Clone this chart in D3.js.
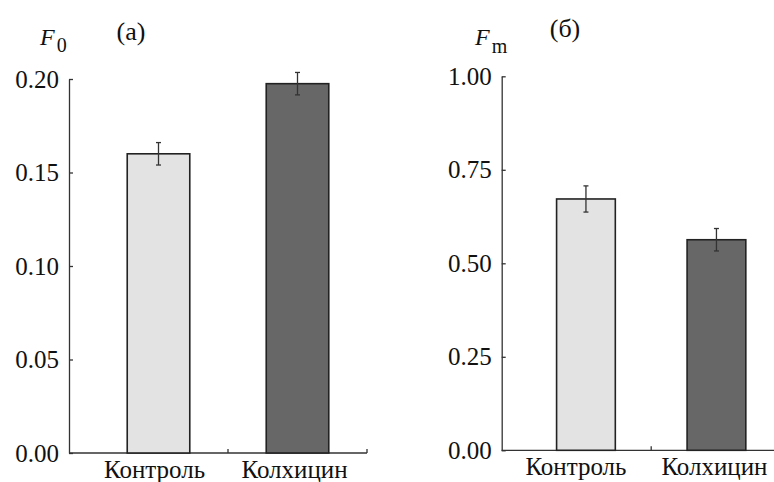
<!DOCTYPE html>
<html>
<head>
<meta charset="utf-8">
<script src="https://cdn.jsdelivr.net/npm/d3@7"></script>
<style>
  body { margin: 0; background: #fff; }
</style>
</head>
<body>
<div id="chart"></div>
<script>
// data
var categories = ["Контроль", "Колхицин"];
var f0Values = [0.160, 0.1975];
var f0Errors = [0.006, 0.006];
var fmValues = [0.672, 0.563];
var fmErrors = [0.035, 0.030];
var f0Ticks = [0, 0.05, 0.10, 0.15, 0.20];
var fmTicks = [0, 0.25, 0.50, 0.75, 1.00];
var barColors = ["#e3e3e3", "#676767"];

var FONT = "'Liberation Serif', Tinos, 'Times New Roman', Times, 'Nimbus Roman', 'Nimbus Roman No9 L', FreeSerif, 'Noto Serif', 'DejaVu Serif', serif";

var svg = d3.select("#chart")
  .append("svg")
    .attr("width", 774)
    .attr("height", 482)
    .attr("font-family", FONT);

var panels = [
  {title: "(a)", titleX: 131, titleY: 40, sym: "F", sub: "0", symX: 40, subDy: 7,
   axisX: 69, top: 79, bottom: 453, xStart: 89, xEnd: 367,
   values: f0Values, errors: f0Errors, ticks: f0Ticks, max: 0.20, shift: [-4, -3]},
  {title: "(б)", titleX: 565, titleY: 37, sym: "F", sub: "m", symX: 475, subDy: 8,
   axisX: 501.7, top: 76.3, bottom: 450.3, xStart: 520.7, xEnd: 781.7,
   values: fmValues, errors: fmErrors, ticks: fmTicks, max: 1.00, shift: [-10, -2]}
];

panels.forEach(function(p) {
  var g = svg.append("g");

  var y = d3.scaleLinear()
    .domain([0, p.max])
    .range([p.bottom, p.top]);

  var x = d3.scaleBand()
    .domain(categories)
    .range([p.xStart, p.xEnd]);

  var barW = x.step() * 0.45;

  // Y axis, ticks pointing inward
  var yAxis = g.append("g")
    .attr("transform", "translate(" + p.axisX + ",0)")
    .call(d3.axisLeft(y)
      .tickValues(p.ticks)
      .tickFormat(d3.format(".2f"))
      .tickSizeInner(-4)
      .tickSizeOuter(0)
      .tickPadding(10));
  yAxis.attr("font-family", FONT).attr("font-size", 25);
  yAxis.select(".domain").attr("stroke", "#333").attr("stroke-width", 1.3);
  yAxis.selectAll(".tick line").attr("stroke", "#333").attr("stroke-width", 1.3);
  yAxis.selectAll(".tick text").attr("fill", "#111");

  // X axis line with upward ticks at band edges
  g.append("line")
    .attr("x1", p.axisX).attr("x2", p.xEnd)
    .attr("y1", y(0)).attr("y2", y(0))
    .attr("stroke", "#333").attr("stroke-width", 1.3);
  g.selectAll(".xtick")
    .data(categories)
    .enter()
    .append("line")
    .attr("x1", function(d) { return x(d) + x.step(); })
    .attr("x2", function(d) { return x(d) + x.step(); })
    .attr("y1", y(0))
    .attr("y2", y(0) - 4)
    .attr("stroke", "#333").attr("stroke-width", 1.3);

  // Bars
  g.selectAll(".bar")
    .data(p.values)
    .enter()
    .append("rect")
    .attr("x", function(d, i) { return x(categories[i]) + x.bandwidth() / 2 - barW / 2; })
    .attr("y", function(d) { return y(d); })
    .attr("width", barW)
    .attr("height", function(d) { return y(0) - y(d); })
    .attr("fill", function(d, i) { return barColors[i]; })
    .attr("stroke", "#222")
    .attr("stroke-width", 1.6);

  // Error bars
  p.values.forEach(function(v, i) {
    var cx = x(categories[i]) + x.bandwidth() / 2;
    var e = p.errors[i];
    g.append("line")
      .attr("x1", cx).attr("x2", cx)
      .attr("y1", y(v + e)).attr("y2", y(v - e))
      .attr("stroke", "#333").attr("stroke-width", 1.3);
    [v + e, v - e].forEach(function(w) {
      g.append("line")
        .attr("x1", cx - 2.5).attr("x2", cx + 2.5)
        .attr("y1", y(w)).attr("y2", y(w))
        .attr("stroke", "#333").attr("stroke-width", 1.3);
    });
  });

  // Category labels
  g.selectAll(".cat")
    .data(categories)
    .enter()
    .append("text")
    .attr("x", function(d, i) { return x(d) + x.bandwidth() / 2 + p.shift[i]; })
    .attr("y", y(0) + 25)
    .attr("text-anchor", "middle")
    .attr("fill", "#111")
    .attr("font-size", 25)
    .text(function(d) { return d; });

  // Panel title
  g.append("text")
    .attr("x", p.titleX)
    .attr("y", p.titleY)
    .attr("text-anchor", "middle")
    .attr("fill", "#111")
    .attr("font-size", 26)
    .text(p.title);

  // Axis symbol with subscript
  var lab = g.append("text")
    .attr("x", p.symX)
    .attr("y", 45)
    .attr("fill", "#111")
    .attr("font-size", 24);
  lab.append("tspan").attr("font-style", "italic").text(p.sym);
  lab.append("tspan").attr("dx", 2).attr("dy", p.subDy).attr("font-size", 20).text(p.sub);
});
</script>
</body>
</html>
